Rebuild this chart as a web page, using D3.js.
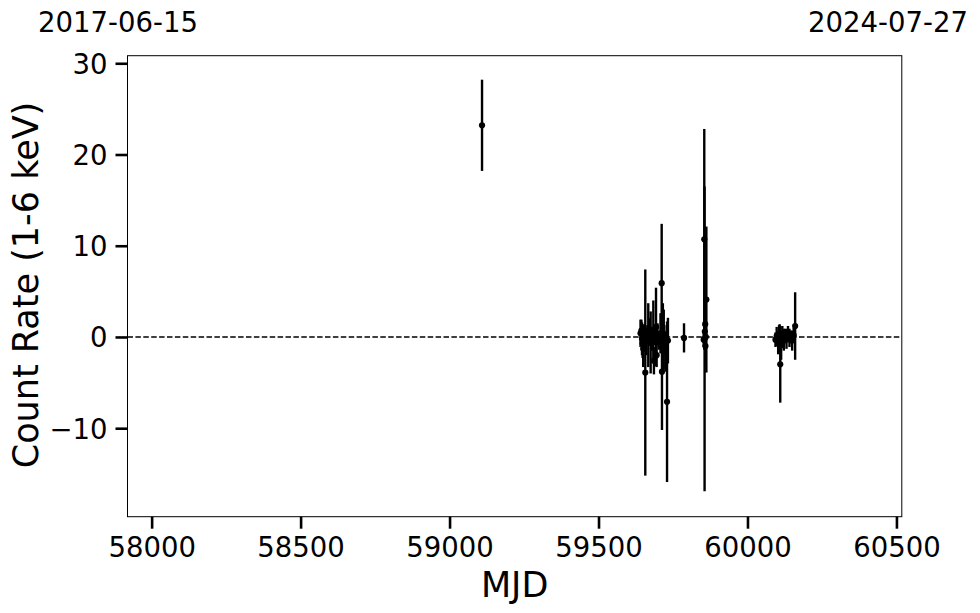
<!DOCTYPE html>
<html>
<head>
<meta charset="utf-8">
<script src="https://cdn.jsdelivr.net/npm/d3@7"></script>
<style>
  html, body { margin: 0; padding: 0; background: #fff; }
  svg text { font-family: "DejaVu Sans", sans-serif; fill: #000; }
</style>
</head>
<body>
<svg id="chart" width="980" height="613"></svg>
<script>
// ---- data ----
const mjd = [
  59109,
  59641, 59644, 59646, 59648, 59650, 59652, 59657, 59660, 59664, 59667, 59671, 59675, 59680,
  59684, 59686, 59690, 59693, 59695, 59698, 59703, 59708, 59712, 59713, 59716, 59719, 59721,
  59726, 59730, 59733,
  59787,
  59853, 59855, 59856, 59857, 59858, 59859, 59860, 59862,
  60094, 60098, 60103, 60106, 60108, 60110, 60113, 60117, 60122, 60126, 60131, 60136, 60141,
  60146, 60150, 60155, 60160
];
const rate = [
  23.2,
  0.4, 0.7, -0.2, -0.7, -1.3, 0.1, -3.9, -0.5, 0.3, 0.2, 0.55, -0.6, -0.3,
  0.8, -2.6, 0.1, 1.1, -2.0, 0.3, -0.6, 0.4, 5.9, -3.8, 0.4, -0.3, -0.2,
  -1.6, -7.1, -0.4,
  -0.1,
  -0.3, 10.7, -0.2, 0.6, 1.4, -1.0, 0.0, 4.1,
  -0.3, 0.1, -0.7, -0.2, 0.4, -3.0, -0.9, 0.2, -0.3, 0.1, -0.2, 0.3, -0.1,
  0.0, -0.4, 0.2, 1.2
];
const err = [
  5.0,
  1.5, 1.2, 1.8, 1.6, 2.0, 1.3, 11.3, 1.5, 1.0, 3.5, 1.5, 3.4, 1.2,
  3.2, 1.5, 1.0, 4.3, 1.3, 1.2, 0.8, 2.2, 6.5, 6.4, 3.3, 3.3, 1.5,
  2.2, 8.8, 2.5,
  1.6,
  0.8, 12.1, 16.7, 1.0, 3.0, 2.0, 2.0, 8.0,
  0.8, 1.0, 1.2, 1.5, 1.0, 4.2, 1.6, 1.0, 1.2, 0.8, 1.1, 0.9, 1.0,
  0.7, 1.1, 0.8, 3.7
];
const xTicks = [58000, 58500, 59000, 59500, 60000, 60500];
const yTicks = [-10, 0, 10, 20, 30];
const xDomain = [57919, 60518];
const yDomain = [-19.7, 30.83];
const dateLabels = ["2017-06-15", "2024-07-27"];
const xLabel = "MJD";
const yLabel = "Count Rate (1-6 keV)";

// ---- layout ----
const svg = d3.select("#chart");
const L = 127.5, R = 901.8, T = 55.7, B = 516.7;
const x = d3.scaleLinear().domain(xDomain).range([L, R]);
const y = d3.scaleLinear().domain(yDomain).range([B, T]);

const fmt = d => d < 0 ? "\u2212" + Math.abs(d) : String(d);

// zero line
svg.append("line")
  .attr("x1", L).attr("x2", R)
  .attr("y1", y(0)).attr("y2", y(0))
  .attr("stroke", "#000").attr("stroke-width", 1.6)
  .attr("stroke-dasharray", "5.5,2.4");

// error bars
const pts = mjd.map((m, i) => ({ m, r: rate[i], e: err[i] }));
svg.append("g").selectAll("line").data(pts).join("line")
  .attr("x1", d => x(d.m)).attr("x2", d => x(d.m))
  .attr("y1", d => y(d.r + d.e)).attr("y2", d => y(d.r - d.e))
  .attr("stroke", "#000").attr("stroke-width", 2.4);
svg.append("g").selectAll("circle").data(pts).join("circle")
  .attr("cx", d => x(d.m)).attr("cy", d => y(d.r)).attr("r", 3.1)
  .attr("fill", "#000");

// frame
svg.append("rect").attr("x", L).attr("y", T)
  .attr("width", R - L).attr("height", B - T)
  .attr("fill", "none").attr("stroke", "#000").attr("stroke-width", 1);

// axes
const xAxis = svg.append("g").attr("transform", `translate(0,${B})`)
  .call(d3.axisBottom(x).tickValues(xTicks).tickFormat(d => String(d)).tickSize(12).tickPadding(9));
const yAxis = svg.append("g").attr("transform", `translate(${L},0)`)
  .call(d3.axisLeft(y).tickValues(yTicks).tickFormat(fmt).tickSize(12).tickPadding(8));
[xAxis, yAxis].forEach(g => {
  g.select(".domain").remove();
  g.selectAll(".tick line").attr("stroke", "#000").attr("stroke-width", 2.6);
  g.selectAll(".tick text").attr("font-size", 27.5).attr("font-family", "DejaVu Sans").attr("fill", "#000");
});
xAxis.selectAll(".tick text").attr("dy", "0.72em");
yAxis.selectAll(".tick text").attr("dy", "0.36em");

// axis labels
svg.append("text").attr("x", (L + R) / 2).attr("y", 597)
  .attr("text-anchor", "middle").attr("font-size", 35).text(xLabel);
svg.append("text").attr("transform", "translate(37.5,285) rotate(-90)")
  .attr("text-anchor", "middle").attr("font-size", 35).text(yLabel);

// date labels
svg.append("text").attr("x", 118).attr("y", 32)
  .attr("text-anchor", "middle").attr("font-size", 27.5).text(dateLabels[0]);
svg.append("text").attr("x", 888).attr("y", 32)
  .attr("text-anchor", "middle").attr("font-size", 27.5).text(dateLabels[1]);
</script>
</body>
</html>
